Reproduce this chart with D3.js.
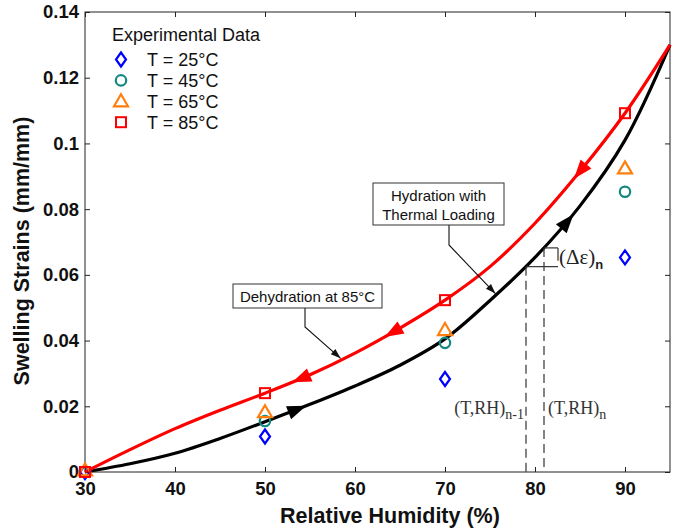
<!DOCTYPE html>
<html>
<head>
<meta charset="utf-8">
<script src="https://cdn.jsdelivr.net/npm/d3@7"></script>
<style>
  html, body { margin: 0; padding: 0; background: #fff; }
  svg { display: block; }
</style>
</head>
<body>
<svg id="chart" width="679" height="532"></svg>
<script>
// ---- data ----
const rhMeasured = [30, 50, 70, 90];
const strain25 = [0.0, 0.0108, 0.0283, 0.0653];
const strain45 = [0.0, 0.0155, 0.0393, 0.0853];
const strain65 = [0.0005, 0.0182, 0.0432, 0.0924];
const strain85 = [0.0, 0.0240, 0.0523, 0.1092];

// model curves (hydration with thermal loading / dehydration at 85°C)
const rhCurve = [30, 35, 40, 45, 50, 55, 60, 65, 70, 75, 80, 85, 90, 95];
const hydrationStrain = [0.0, 0.0025, 0.0057, 0.0102, 0.0153, 0.0206, 0.0262, 0.0325,
  0.0405, 0.0522, 0.0653, 0.0810, 0.1010, 0.1300];
const dehydrationStrain = [0.0, 0.0068, 0.0132, 0.0188, 0.0240, 0.0296, 0.0362, 0.0438,
  0.0523, 0.0625, 0.0757, 0.0915, 0.1092, 0.1300];
const hydrationArrowRH = [53.6, 83.6];
const dehydrationArrowRH = [85.0, 64.2, 54.0];

const xTicks = [30, 40, 50, 60, 70, 80, 90];
const yTicks = [0, 0.02, 0.04, 0.06, 0.08, 0.1, 0.12, 0.14];
const stepRH = [79, 81];

const legendLabels = ["T = 25°C", "T = 45°C", "T = 65°C", "T = 85°C"];
const legendColors = ["#0000ff", "#138883", "#ff7f0e", "#ff0000"];

// ---- layout ----
const svg = d3.select("#chart");
const x = d3.scaleLinear().domain([30, 95]).range([85, 670]);
const y = d3.scaleLinear().domain([0, 0.14]).range([472, 12]);
const font = "Arial, 'Liberation Sans', sans-serif";
const serif = "'Liberation Serif', 'Times New Roman', serif";

// axes: inward ticks on all four sides
const fmt = d => String(+d.toFixed(2));
const axisB = svg.append("g").attr("transform", `translate(0,${y(0)})`)
  .call(d3.axisBottom(x).tickValues(xTicks).tickSizeInner(-5).tickSizeOuter(0).tickPadding(10));
const axisL = svg.append("g").attr("transform", `translate(${x(30)},0)`)
  .call(d3.axisLeft(y).tickValues(yTicks).tickFormat(fmt).tickSizeInner(-5).tickSizeOuter(0).tickPadding(6));
const axisT = svg.append("g").attr("transform", `translate(0,${y(0.14)})`)
  .call(d3.axisTop(x).tickValues(xTicks).tickSizeInner(-5).tickSizeOuter(0).tickFormat(""));
const axisR = svg.append("g").attr("transform", `translate(${x(95)},0)`)
  .call(d3.axisRight(y).tickValues(yTicks).tickSizeInner(-5).tickSizeOuter(0).tickFormat(""));
[axisB, axisL, axisT, axisR].forEach(g => {
  g.select(".domain").remove();
  g.selectAll("line").attr("stroke", "#222").attr("stroke-width", 1);
  g.selectAll("text").attr("font-family", font).attr("font-size", 18.5)
    .attr("font-weight", "bold").attr("fill", "#111");
});

svg.append("rect")
  .attr("x", x(30)).attr("y", y(0.14))
  .attr("width", x(95) - x(30)).attr("height", y(0) - y(0.14))
  .attr("fill", "none").attr("stroke", "#222").attr("stroke-width", 1);

// axis titles
svg.append("text").attr("x", 390).attr("y", 523)
  .attr("text-anchor", "middle").attr("font-family", font)
  .attr("font-size", 21.5).attr("font-weight", "bold").attr("fill", "#111")
  .text("Relative Humidity (%)");
svg.append("text").attr("transform", `translate(29,251) rotate(-90)`)
  .attr("text-anchor", "middle").attr("font-family", font)
  .attr("font-size", 21.5).attr("font-weight", "bold").attr("fill", "#111")
  .text("Swelling Strains (mm/mm)");

// ---- curves ----
const line = d3.line().x(d => x(d[0])).y(d => y(d[1])).curve(d3.curveCatmullRom.alpha(0.5));
const hydPts = rhCurve.map((r, i) => [r, hydrationStrain[i]]);
const dehPts = rhCurve.map((r, i) => [r, dehydrationStrain[i]]);

const hydPath = svg.append("path").attr("d", line(hydPts))
  .attr("fill", "none").attr("stroke", "#000").attr("stroke-width", 3.2);
const dehPath = svg.append("path").attr("d", line(dehPts))
  .attr("fill", "none").attr("stroke", "#ff0000").attr("stroke-width", 3.2);

// path length at which the curve reaches screen x = px
function lengthAtX(pathNode, px) {
  const L = pathNode.getTotalLength();
  let lo = 0, hi = L;
  for (let k = 0; k < 40; k++) {
    const mid = (lo + hi) / 2;
    if (pathNode.getPointAtLength(mid).x < px) lo = mid; else hi = mid;
  }
  return lo;
}

// ---- step markers (dashed RH levels and strain increment) ----
const hNode = hydPath.node();
const dNode = dehPath.node();
const stepY = stepRH.map(r => hNode.getPointAtLength(lengthAtX(hNode, x(r))).y);
const bracketX = x(stepRH[1]) + 14;
const stepG = svg.append("g").attr("stroke", "#333").attr("stroke-width", 1.2).attr("fill", "none");
stepRH.forEach((r, i) => {
  stepG.append("line").attr("x1", x(r)).attr("x2", x(r))
    .attr("y1", stepY[i]).attr("y2", y(0))
    .attr("stroke-dasharray", "9,5");
  stepG.append("line").attr("x1", x(r)).attr("x2", bracketX)
    .attr("y1", stepY[i]).attr("y2", stepY[i]);
});
stepG.append("line").attr("x1", bracketX).attr("x2", bracketX)
  .attr("y1", stepY[1]).attr("y2", stepY[0] - 6);

const deltaLabel = svg.append("text").attr("x", bracketX + 1).attr("y", (stepY[0] + stepY[1]) / 2 + 7)
  .attr("font-family", serif).attr("font-size", 21).attr("fill", "#222");
deltaLabel.append("tspan").text("(Δε)");
deltaLabel.append("tspan").attr("dy", 5).attr("font-size", 13)
  .attr("font-family", font).attr("font-weight", "bold").text("n");

function stateLabel(xPos, anchor, sub) {
  const t = svg.append("text").attr("x", xPos).attr("y", 414)
    .attr("text-anchor", anchor).attr("font-family", serif)
    .attr("font-size", 18).attr("fill", "#333");
  t.append("tspan").text("(T,RH)");
  t.append("tspan").attr("dy", 5).attr("font-size", 14).text(sub);
}
stateLabel(x(stepRH[0]) - 2, "end", "n-1");
stateLabel(x(stepRH[1]) + 4, "start", "n");

// ---- direction arrows on curves ----
function arrowAt(pathNode, rh, forward, color) {
  const l = lengthAtX(pathNode, x(rh));
  const p = pathNode.getPointAtLength(l);
  const a = pathNode.getPointAtLength(Math.max(0, l - 2));
  const b = pathNode.getPointAtLength(l + 2);
  let ang = Math.atan2(b.y - a.y, b.x - a.x);
  if (!forward) ang += Math.PI;
  const len = 19, w = 7;
  const c = Math.cos(ang), s = Math.sin(ang);
  const tip = [p.x + c * len / 2, p.y + s * len / 2];
  const base = [p.x - c * len / 2, p.y - s * len / 2];
  const pts = [tip, [base[0] - s * w, base[1] + c * w], [base[0] + s * w, base[1] - c * w]];
  svg.append("path").attr("d", "M" + pts.join("L") + "Z").attr("fill", color);
}
hydrationArrowRH.forEach(r => arrowAt(hNode, r, true, "#000"));
dehydrationArrowRH.forEach(r => arrowAt(dNode, r, false, "#ff0000"));

// ---- experimental markers ----
const series = [strain25, strain45, strain65, strain85];
const markerShape = [
  (g, cx, cy, c) => g.append("path").attr("d", `M${cx},${cy - 7}L${cx + 5},${cy}L${cx},${cy + 7}L${cx - 5},${cy}Z`)
    .attr("fill", "none").attr("stroke", c).attr("stroke-width", 2.2),
  (g, cx, cy, c) => g.append("circle").attr("cx", cx).attr("cy", cy).attr("r", 5.2)
    .attr("fill", "none").attr("stroke", c).attr("stroke-width", 2.2),
  (g, cx, cy, c) => g.append("path").attr("d", `M${cx},${cy - 7}L${cx + 7},${cy + 5}L${cx - 7},${cy + 5}Z`)
    .attr("fill", "none").attr("stroke", c).attr("stroke-width", 2.2),
  (g, cx, cy, c) => g.append("rect").attr("x", cx - 5).attr("y", cy - 5).attr("width", 10).attr("height", 10)
    .attr("fill", "none").attr("stroke", c).attr("stroke-width", 2)
];
const markG = svg.append("g");
series.forEach((vals, si) => {
  vals.forEach((v, i) => markerShape[si](markG, x(rhMeasured[i]), y(v), legendColors[si]));
});

// ---- callout boxes ----
function callout(x0, y0, w, h, lines, pts) {
  svg.append("path").attr("d", "M" + pts.join("L"))
    .attr("fill", "none").attr("stroke", "#111").attr("stroke-width", 1.1);
  const n = pts.length;
  const [ex, ey] = pts[n - 1], [sx, sy] = pts[n - 2];
  const ang = Math.atan2(ey - sy, ex - sx), c = Math.cos(ang), s = Math.sin(ang);
  const L = 10, W = 3.5;
  const bx = ex - c * L, by = ey - s * L;
  svg.append("path").attr("d", `M${ex},${ey}L${bx - s * W},${by + c * W}L${bx + s * W},${by - c * W}Z`).attr("fill", "#111");
  svg.append("rect").attr("x", x0).attr("y", y0).attr("width", w).attr("height", h)
    .attr("fill", "#fff").attr("stroke", "#333").attr("stroke-width", 1);
  lines.forEach((t, i) => {
    svg.append("text").attr("x", x0 + w / 2).attr("y", y0 + 18 + i * 19)
      .attr("text-anchor", "middle").attr("font-family", font).attr("font-size", 15)
      .attr("fill", "#111").text(t);
  });
}
callout(373, 183, 131, 42, ["Hydration with", "Thermal Loading"],
  [[449, 225], [449, 245], [x(75.6), hNode.getPointAtLength(lengthAtX(hNode, x(75.6))).y - 2]]);
callout(233, 284, 149, 24, ["Dehydration at 85°C"],
  [[305, 308], [305, 327], [x(58.4), dNode.getPointAtLength(lengthAtX(dNode, x(58.4))).y - 2]]);

// ---- legend ----
svg.append("text").attr("x", 112).attr("y", 41).attr("font-family", font)
  .attr("font-size", 18).attr("fill", "#111").text("Experimental Data");
legendLabels.forEach((lab, i) => {
  const cy = 59.5 + i * 20.9;
  markerShape[i](svg, 121, cy, legendColors[i]);
  svg.append("text").attr("x", 147).attr("y", cy + 6.5).attr("font-family", font)
    .attr("font-size", 18).attr("fill", "#111").text(lab);
});
</script>
</body>
</html>
